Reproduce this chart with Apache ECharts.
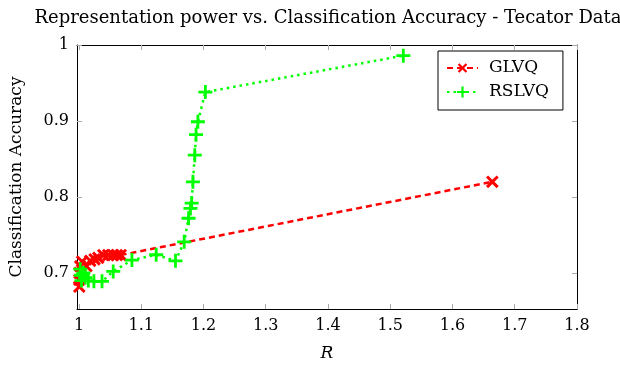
<!DOCTYPE html>
<html>
<head>
<meta charset="utf-8">
<script src="https://cdn.jsdelivr.net/npm/echarts@6/dist/echarts.min.js"></script>
<style>
  html, body { margin: 0; padding: 0; background: #fff; }
  #chart { width: 620px; height: 367px; }
</style>
</head>
<body>
<div id="chart"></div>
<script>
// tick labels
const xTicks = [1, 1.1, 1.2, 1.3, 1.4, 1.5, 1.6, 1.7, 1.8]
const yTicks = [0.7, 0.8, 0.9, 1]

// GLVQ (R, accuracy)
const glvqR = [1.0005, 1.0005, 1.0008, 1.002, 1.005, 1.012, 1.018, 1.025, 1.031, 1.039, 1.047, 1.055, 1.061, 1.067, 1.664]
const glvqAcc = [0.682, 0.691, 0.700, 0.709, 0.715, 0.709, 0.716, 0.718, 0.720, 0.7236, 0.7236, 0.7236, 0.7236, 0.7236, 0.820]

// RSLVQ (R, accuracy)
const rslvqR = [1.002, 1.003, 1.004, 1.007, 1.010, 1.015, 1.024, 1.037, 1.055, 1.085, 1.124, 1.155, 1.169, 1.176, 1.179, 1.181, 1.183, 1.186, 1.188, 1.191, 1.203, 1.521]
const rslvqAcc = [0.705, 0.697, 0.690, 0.700, 0.694, 0.690, 0.689, 0.689, 0.702, 0.717, 0.724, 0.716, 0.741, 0.772, 0.785, 0.792, 0.820, 0.855, 0.882, 0.899, 0.938, 0.986]

const FONT = 'DejaVu Serif'
const PLUS = 'path://M4,0H6V4H10V6H6V10H4V6H0V4H4Z'

const chart = echarts.init(document.getElementById('chart'))

const tickStyle = { show: true, inside: true, length: 5, lineStyle: { color: '#aaa', width: 1 } }
const lineAxis = { show: true, onZero: false, lineStyle: { color: '#000', width: 1 } }

const option = {
  animation: false,
  backgroundColor: '#fff',
  title: {
    text: 'Representation power vs. Classification Accuracy - Tecator Data',
    left: 323,
    top: 4,
    textAlign: 'center',
    textStyle: { fontFamily: FONT, fontSize: 18, fontWeight: 'normal', color: '#000' }
  },
  grid: { left: 75, right: 43, top: 45, bottom: 53 },
  legend: {
    left: 438,
    top: 51,
    orient: 'vertical',
    backgroundColor: '#fff',
    borderColor: '#000',
    borderWidth: 1,
    borderRadius: 0,
    padding: [7, 14, 8, 8],
    itemGap: 4,
    itemWidth: 31,
    itemHeight: 14,
    textStyle: { fontFamily: FONT, fontSize: 17, color: '#000', lineHeight: 20, padding: [0, 0, 0, 6] },
    data: ['GLVQ', 'RSLVQ']
  },
  xAxis: [
    {
      type: 'value',
      min: 0.9968,
      max: 1.8,
      name: 'R',
      nameLocation: 'middle',
      nameGap: 36,
      nameTextStyle: { fontFamily: FONT, fontSize: 17, fontStyle: 'italic', color: '#000' },
      axisLine: lineAxis,
      axisTick: Object.assign({ customValues: xTicks }, tickStyle),
      axisLabel: { customValues: xTicks, margin: 9, fontFamily: FONT, fontSize: 16, color: '#000' },
      splitLine: { show: false }
    },
    {
      type: 'value',
      position: 'top',
      min: 0.9968,
      max: 1.8,
      axisLine: lineAxis,
      axisTick: Object.assign({ customValues: xTicks }, tickStyle),
      axisLabel: { show: false },
      splitLine: { show: false }
    }
  ],
  yAxis: [
    {
      type: 'value',
      min: 0.6526,
      max: 1,
      name: 'Classification Accuracy',
      nameLocation: 'middle',
      nameGap: 52,
      nameTextStyle: { fontFamily: FONT, fontSize: 17, color: '#000' },
      axisLine: lineAxis,
      axisTick: Object.assign({ customValues: yTicks }, tickStyle),
      axisLabel: { customValues: yTicks, margin: 8, fontFamily: FONT, fontSize: 16, color: '#000' },
      splitLine: { show: false }
    },
    {
      type: 'value',
      position: 'right',
      min: 0.6526,
      max: 1,
      axisLine: lineAxis,
      axisTick: Object.assign({ customValues: yTicks }, tickStyle),
      axisLabel: { show: false },
      splitLine: { show: false }
    }
  ],
  series: [
    {
      name: 'GLVQ',
      type: 'line',
      data: glvqR.map((r, i) => [r, glvqAcc[i]]),
      symbol: PLUS,
      symbolSize: 15,
      symbolRotate: 45,
      lineStyle: { color: '#ff0000', width: 2.5, type: [6, 4] },
      itemStyle: { color: '#ff0000' },
      z: 2
    },
    {
      name: 'RSLVQ',
      type: 'line',
      data: rslvqR.map((r, i) => [r, rslvqAcc[i]]),
      symbol: PLUS,
      symbolSize: 14,
      lineStyle: { color: '#00ff00', width: 2.5, type: [2.5, 4] },
      itemStyle: { color: '#00ff00' },
      z: 3
    }
  ]
}

chart.setOption(option)
</script>
</body>
</html>
